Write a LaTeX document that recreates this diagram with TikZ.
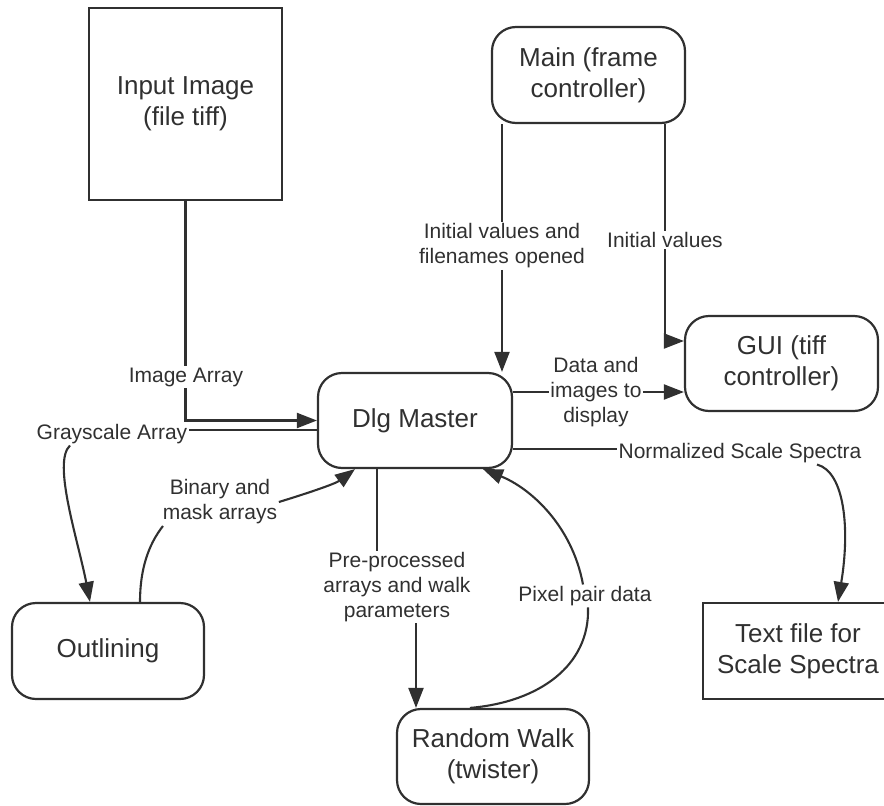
\documentclass[tikz,border=0pt]{standalone}
\usepackage{fontspec}
\setmainfont{Liberation Sans}
\usetikzlibrary{arrows.meta}
\definecolor{ink}{HTML}{303030}
\newcommand\bxf{\fontsize{26}{31}\selectfont}
\newcommand\lbf{\fontsize{21}{25}\selectfont}
\begin{document}
\begin{tikzpicture}[x=1pt,y=-1pt,
  box/.style={draw=ink,line width=2.2pt,text=ink,align=center,font=\bxf,minimum width=193pt,minimum height=96pt,inner sep=0pt},
  rbox/.style={box,rounded corners=24pt},
  lbl/.style={text=ink,font=\lbf,align=center,inner sep=1.5pt},
  conn/.style={draw=ink,line width=2.1pt},
  arr/.style={conn,-{Triangle[length=20pt,width=15pt]}}]
\useasboundingbox (0,0) rectangle (884,806);
\clip (0,0) rectangle (884,806);
% boxes
\node[box,minimum height=192pt] (ii) at (185.5,104) {Input Image\\(file tiff)};
\node[rbox] (main) at (588.5,75) {Main (frame\\controller)};
\node[rbox,minimum height=95pt] (gui) at (781.5,363.5) {GUI (tiff\\controller)};
\node[rbox,minimum width=194pt,minimum height=95pt] (dlg) at (415,420.5) {Dlg Master};
\node[rbox,minimum width=192pt] (out) at (108,651) {Outlining};
\node[rbox,minimum width=192pt,minimum height=95pt] (rw) at (493,756.5) {Random Walk\\(twister)};
\node[box,minimum width=190pt] (tf) at (798,651) {Text file for\\Scale Spectra};
% labels
\node[lbl] (ial) at (186,377) {Image Array};
\node[lbl] (gsl) at (112,434) {Grayscale Array};
\node[lbl] (bm) at (220,502) {Binary and\\mask arrays};
\node[lbl] (ivf) at (502,246) {Initial values and\\filenames opened};
\node[lbl] (iv) at (665,240) {Initial values};
\node[lbl] (dat) at (596,392) {Data and\\images to\\display};
\node[lbl] (nss) at (740,453) {Normalized Scale Spectra};
\node[lbl] (pp) at (397,587) {Pre-processed\\arrays and walk\\parameters};
\node[lbl] (ppd) at (585,596) {Pixel pair data};
% connectors
\draw[conn] (ii.south) -- (ii.south |- ial.north);
\draw[arr] (ii.south |- ial.south) |- (dlg.west);
\draw[conn] ([yshift=-9.5pt]dlg.west) -- ([yshift=-9.5pt]dlg.west -| gsl.east);
\draw[arr] ([xshift=-42pt]gsl.south) .. controls (52,462) and (78,540) .. ([xshift=-18pt]out.north);
\draw[conn] ([xshift=32pt]out.north) .. controls (140,570) and (148,545) .. ([xshift=-57pt]bm.south);
\draw[arr] (bm.east) .. controls (305,494) and (335,484) .. ([xshift=-60pt]dlg.south);
\draw[conn] ([xshift=-86.5pt]main.south) -- ([xshift=-86.5pt]main.south |- ivf.north);
\draw[arr] (ivf.south) -- (ivf.south |- dlg.north);
\draw[conn] ([xshift=76.5pt]main.south) -- ([xshift=76.5pt]main.south |- iv.north);
\draw[arr] (iv.south) |- ([yshift=22.5pt]gui.west);
\draw[conn] ([yshift=28.5pt]dlg.east) -- ([yshift=28.5pt]dlg.east -| dat.west);
\draw[arr] ([yshift=28.5pt]dlg.east -| dat.east) -- ([yshift=28.5pt]dlg.east -| gui.west);
\draw[conn] ([yshift=-28.5pt]dlg.east) -- ([yshift=-28.5pt]dlg.east -| nss.west);
\draw[arr] ([xshift=77pt]nss.south) .. controls (845,472) and (850,530) .. ([xshift=40pt]tf.north);
\draw[conn] ([xshift=-38pt]dlg.south) -- ([xshift=-38pt]dlg.south |- pp.north);
\draw[arr] ([xshift=-77pt]rw.north |- pp.south) -- ([xshift=-77pt]rw.north);
\draw[conn] ([xshift=-23pt]rw.north) .. controls (540,702) and (590,665) .. ([xshift=3pt]ppd.south);
\draw[arr] ([xshift=-2pt]ppd.north) .. controls (572,525) and (530,488) .. ([xshift=68pt]dlg.south);
\end{tikzpicture}
\end{document}
